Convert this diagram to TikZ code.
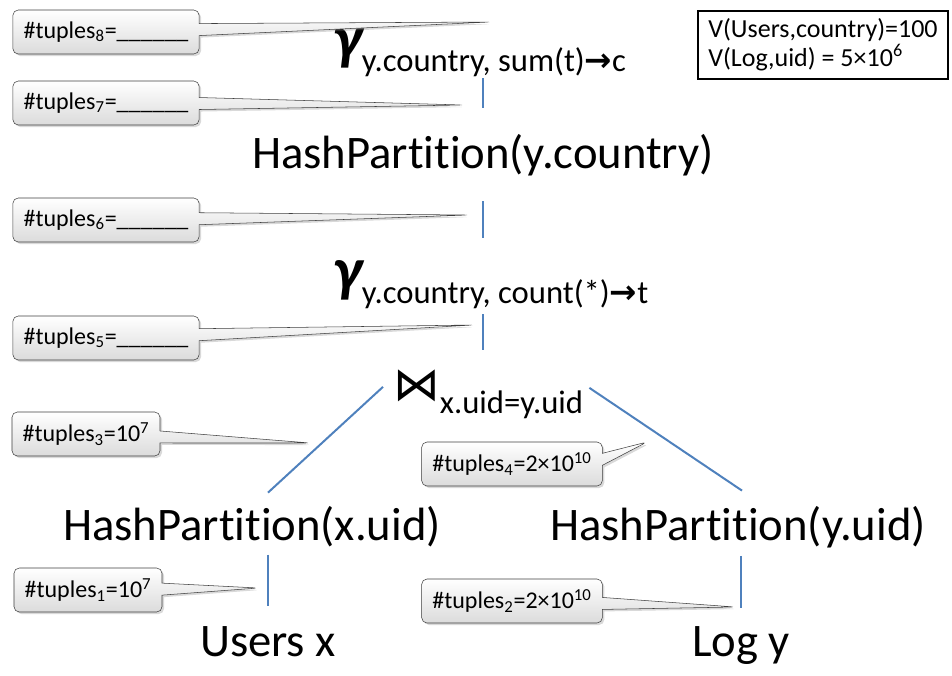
\documentclass[tikz,border=0pt]{standalone}
\usepackage{fontspec}
\setmainfont{Carlito}[Ligatures=NoCommon]
\newfontfamily\symfont{DejaVu Sans}
\usetikzlibrary{shapes.callouts,shadows}

\definecolor{lineblue}{RGB}{79,129,189}
\newcommand{\gam}{{\fontsize{46}{50}\selectfont\bfseries\itshape γ}}
\newcommand{\lowsub}[1]{\raisebox{-10pt}{\fontsize{24.5}{27}\selectfont #1}}
\newcommand{\tto}{{\symfont\bfseries →}}

\begin{document}
\begin{tikzpicture}[x=0.75pt, y=-0.75pt,
  op/.style={inner sep=0pt, font=\fontsize{35}{40}\selectfont},
  tally/.style={rectangle callout, draw=black!75, rounded corners=4pt, top color=white, bottom color=black!14,
    drop shadow={opacity=0.3, shadow xshift=1.5pt, shadow yshift=-1.5pt},
    font=\fontsize{18}{21}\selectfont, inner xsep=8pt, minimum height=33pt, callout pointer width=9pt},
  edge/.style={draw=lineblue, line width=1.5pt}
]
  \useasboundingbox (0,0) rectangle (952,675);

  % Operators
  \node[op, anchor=base west] (g2) at (333,58) {\gam\lowsub{y.country, sum(t)\tto c}};
  \node[op, anchor=base] (hpc) at (483,168) {HashPartition(y.country)};
  \node[op, anchor=base west] (g1) at (333,290) {\gam\lowsub{y.country, count(*)\tto t}};
  \node[op, anchor=base west] (join) at (393,400) {{\symfont ⋈}\lowsub{x.uid=y.uid}};
  \node[op, anchor=base] (hpx) at (252,540) {HashPartition(x.uid)};
  \node[op, anchor=base] (hpy) at (738,540) {HashPartition(y.uid)};
  \node[op, anchor=base] (users) at (268,656) {Users x};
  \node[op, anchor=base] (log) at (741,656) {Log y};

  % Statistics
  \node[draw, line width=1.5pt, align=left, minimum width=187.5pt, minimum height=51pt, anchor=north west,
    font=\fontsize{19.5}{22}\selectfont] (stats) at (697,10)
    {V(Users,country)=100\\V(Log,uid) = 5×10\textsuperscript{6}};

  % Edges
  \draw[edge, shorten <=1pt, shorten >=19pt] (g2.south -| hpc) -- (hpc.north);
  \draw[edge, shorten <=19pt, shorten >=16pt] (hpc.south) -- (hpc.south |- g1.north);
  \draw[edge, shorten <=4pt, shorten >=14pt] (g1.south -| hpc) -- (join.north -| hpc);
  \draw[edge] ([shift={(-10,-32)}]join.south west) -- ([shift={(16,-13)}]hpx.north);
  \draw[edge] ([shift={(6,-31)}]join.south east) -- ([shift={(4,-15)}]hpy.north);
  \draw[edge, shorten <=6pt, shorten >=15pt] (hpx.south -| users) -- (users.north);
  \draw[edge, shorten <=6pt, shorten >=13pt] (hpy.south -| log) -- (log.north);

  % Tuple counts
  \coordinate (t8) at (490,22);
  \coordinate (t7) at (463,105);
  \coordinate (t6) at (468,215);
  \coordinate (t5) at (473,325);
  \coordinate (t3) at (310,443);
  \coordinate (t4) at (647,442);
  \coordinate (t1) at (258,588);
  \coordinate (t2) at (735,607);
  \node[tally, callout absolute pointer={(t8)}] (c8) at (106,32) {\#tuples\textsubscript{8}=\_\_\_\_\_\_};
  \node[tally, callout absolute pointer={(t7)}] (c7) at (106,103) {\#tuples\textsubscript{7}=\_\_\_\_\_\_};
  \node[tally, callout absolute pointer={(t6)}] (c6) at (106,220) {\#tuples\textsubscript{6}=\_\_\_\_\_\_};
  \node[tally, callout absolute pointer={(t5)}] (c5) at (106,338) {\#tuples\textsubscript{5}=\_\_\_\_\_\_};
  \node[tally, callout absolute pointer={(t3)}] (c3) at (86,434) {\#tuples\textsubscript{3}=10\textsuperscript{7}};
  \node[tally, callout absolute pointer={(t4)}] (c4) at (512,464) {\#tuples\textsubscript{4}=2×10\textsuperscript{10}};
  \node[tally, callout absolute pointer={(t1)}] (c1) at (88,590) {\#tuples\textsubscript{1}=10\textsuperscript{7}};
  \node[tally, callout absolute pointer={(t2)}] (c2) at (512,601) {\#tuples\textsubscript{2}=2×10\textsuperscript{10}};
\end{tikzpicture}
\end{document}
